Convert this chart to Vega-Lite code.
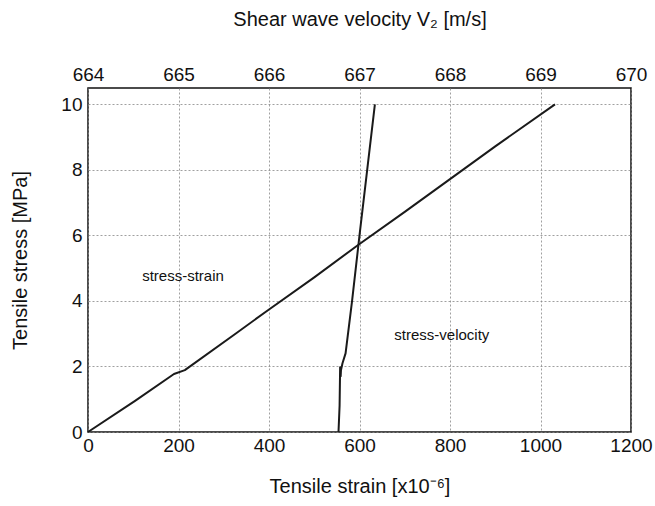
{
  "$schema": "https://vega.github.io/schema/vega-lite/v6.json",
  "autosize": "none",
  "width": 543,
  "height": 344,
  "padding": {"left": 88, "top": 88, "right": 24, "bottom": 74},
  "background": "white",
  "config": {
    "font": "Liberation Sans",
    "view": {"stroke": "#111", "strokeWidth": 1.5},
    "axis": {
      "labelFont": "Liberation Sans",
      "titleFont": "Liberation Sans",
      "labelFontSize": 19,
      "titleFontSize": 20,
      "titleFontWeight": "normal",
      "labelColor": "#111",
      "titleColor": "#111",
      "ticks": false,
      "domain": false,
      "gridColor": "#888",
      "gridDash": [2, 2],
      "gridWidth": 0.8,
      "gridOpacity": 1
    }
  },
  "datasets": {
    "strain": [
      {"strain": 0, "stress": 0},
      {"strain": 104, "stress": 0.95},
      {"strain": 190, "stress": 1.77},
      {"strain": 214, "stress": 1.89},
      {"strain": 326, "stress": 3.0},
      {"strain": 400, "stress": 3.74},
      {"strain": 500, "stress": 4.72},
      {"strain": 600, "stress": 5.74},
      {"strain": 700, "stress": 6.72},
      {"strain": 800, "stress": 7.72},
      {"strain": 900, "stress": 8.72},
      {"strain": 1032, "stress": 10.0}
    ],
    "velocity": [
      {"velocity": 666.768, "stress": 0},
      {"velocity": 666.78, "stress": 0.8},
      {"velocity": 666.792, "stress": 1.7},
      {"velocity": 666.795, "stress": 1.88},
      {"velocity": 666.786, "stress": 1.98},
      {"velocity": 666.812, "stress": 2.1},
      {"velocity": 666.846, "stress": 2.4},
      {"velocity": 666.918, "stress": 4.0},
      {"velocity": 667.0, "stress": 6.0},
      {"velocity": 667.085, "stress": 8.0},
      {"velocity": 667.17, "stress": 10.0}
    ],
    "labels": [
      {"strain": 210, "stress": 4.77, "text": "stress-strain"},
      {"strain": 782, "stress": 2.97, "text": "stress-velocity"}
    ]
  },
  "layer": [
    {
      "layer": [
        {
          "data": {"name": "strain"},
          "mark": {"type": "line", "color": "#1a1a1a", "strokeWidth": 2, "strokeJoin": "round"},
          "encoding": {
            "x": {"field": "strain", "type": "quantitative", "scale": {"domain": [0, 1200], "nice": false},
                  "axis": {"orient": "bottom", "values": [0, 200, 400, 600, 800, 1000, 1200], "format": "d", "title": "Tensile strain [x10⁻⁶]", "labelPadding": 4, "titlePadding": 21, "labelFlush": false}},
            "y": {"field": "stress", "type": "quantitative", "scale": {"domain": [0, 10.5], "nice": false},
                  "axis": {"values": [0, 2, 4, 6, 8, 10], "title": "Tensile stress [MPa]", "labelPadding": 6, "titlePadding": 30}}
          }
        },
        {
          "data": {"name": "labels"},
          "mark": {"type": "text", "fontSize": 15, "color": "#111", "font": "Liberation Sans"},
          "encoding": {
            "x": {"field": "strain", "type": "quantitative"},
            "y": {"field": "stress", "type": "quantitative"},
            "text": {"field": "text"}
          }
        }
      ]
    },
    {
      "data": {"name": "velocity"},
      "mark": {"type": "line", "color": "#1a1a1a", "strokeWidth": 2, "strokeJoin": "round"},
      "encoding": {
        "x": {"field": "velocity", "type": "quantitative", "scale": {"domain": [664, 670], "nice": false, "zero": false},
              "axis": {"orient": "top", "values": [664, 665, 666, 667, 668, 669, 670], "format": "d", "title": "Shear wave velocity V₂  [m/s]", "labelPadding": 4, "titlePadding": 36, "labelFlush": false}},
        "y": {"field": "stress", "type": "quantitative"}
      }
    }
  ],
  "resolve": {"scale": {"x": "independent"}}
}
